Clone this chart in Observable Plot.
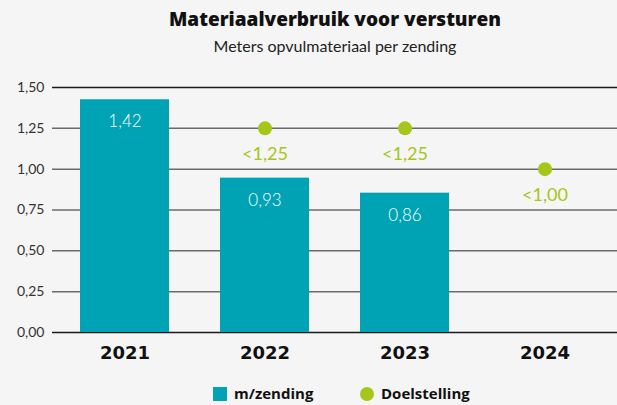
<!DOCTYPE html>
<html>
<head>
<meta charset="utf-8">
<script src="https://cdn.jsdelivr.net/npm/d3@7"></script>
<script src="https://cdn.jsdelivr.net/npm/@observablehq/plot@0.6"></script>
<style>
  html, body { margin: 0; padding: 0; background: #f5f5f5; }
  body { width: 617px; height: 405px; position: relative; overflow: hidden; font-family: Lato, "Open Sans", sans-serif; }
  #title { position: absolute; top: 6px; left: 0; width: 670px; text-align: center; font-family: "Open Sans", sans-serif; font-size: 19px; font-weight: 800; color: #111; white-space: nowrap; }
  #subtitle { position: absolute; top: 36px; left: 0; width: 670px; text-align: center; font-size: 16px; color: #222; white-space: nowrap; }
  #chart { position: absolute; top: 62px; left: 0; }
  #legend { position: absolute; top: 385px; left: 0; width: 617px; font-family: "Open Sans", sans-serif; font-size: 15px; line-height: 17px; font-weight: 700; color: #111; }
  .li { position: absolute; top: 0; display: flex; align-items: center; gap: 7px; }
  .sw { width: 14px; height: 14px; background: #00a3b4; }
  .dot { width: 14px; height: 14px; border-radius: 50%; background: #a5c61a; }
</style>
</head>
<body>
<div id="title">Materiaalverbruik voor versturen</div>
<div id="subtitle">Meters opvulmateriaal per zending</div>
<div id="chart"></div>
<div id="legend">
  <div class="li" style="left:213px"><div class="sw"></div><span>m/zending</span></div>
  <div class="li" style="left:360px"><div class="dot"></div><span>Doelstelling</span></div>
</div>
<script>
const years = ["2021", "2022", "2023", "2024"];
const perShipment = [1.425, 0.945, 0.853, null];
const valueLabels = ["1,42", "0,93", "0,86", null];
const targets = [null, 1.25, 1.25, 1.00];
const targetLabels = [null, "<1,25", "<1,25", "<1,00"];
const yTicks = [0, 0.25, 0.5, 0.75, 1, 1.25, 1.5];

const bars = years.map((y, i) => ({year: y, value: perShipment[i], label: valueLabels[i]})).filter(d => d.value != null);
const goals = years.map((y, i) => ({year: y, value: targets[i], label: targetLabels[i]})).filter(d => d.value != null);
const fmt = v => v.toFixed(2).replace(".", ",");

const chart = Plot.plot({
  width: 617,
  height: 318,
  marginLeft: 52,
  marginRight: 0,
  marginTop: 25,
  marginBottom: 48,
  style: {background: "transparent", fontFamily: "Lato, 'Open Sans', sans-serif"},
  x: {domain: years, paddingInner: 0.365, paddingOuter: 0.2, label: null},
  y: {domain: [0, 1.5], ticks: yTicks, label: null},
  marks: [
    Plot.ruleY(yTicks, {stroke: d => (d === 1.5 || d === 0) ? "#1a1a1a" : "#6b6b6b", strokeWidth: 1.5}),
    Plot.barY(bars, {x: "year", y: "value", fill: "#00a3b4"}),
    Plot.text(bars, {x: "year", y: "value", text: "label", dy: 22, fill: "#ffffff", fontSize: 17, fontWeight: 300}),
    Plot.dot(goals, {x: "year", y: "value", r: 7, fill: "#a5c61a"}),
    Plot.text(goals, {x: "year", y: "value", text: "label", dy: 26, fill: "#a5c61a", fontSize: 18}),
    Plot.axisY({ticks: yTicks, tickSize: 0, tickPadding: 8, tickFormat: fmt, fontSize: 14, fill: "#333"}),
    Plot.axisX({tickSize: 0, tickPadding: 14, fontSize: 18, fontWeight: 700, fontFamily: "DejaVu Sans", fill: "#111"})
  ]
});
document.getElementById("chart").appendChild(chart);
</script>
</body>
</html>
